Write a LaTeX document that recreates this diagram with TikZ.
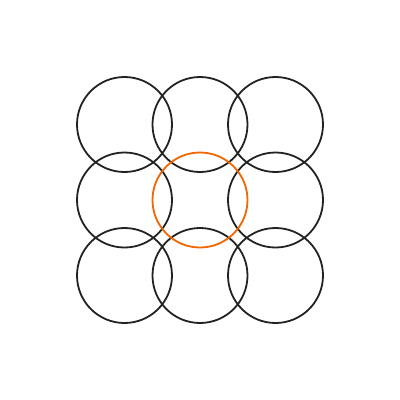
\documentclass[tikz,border=0pt]{standalone}
\definecolor{ringgray}{HTML}{222222}
\definecolor{ringorange}{HTML}{F26500}
\begin{document}
\begin{tikzpicture}[x=1pt,y=-1pt,
  ring/.style={circle,draw=ringgray,line width=1.8pt,minimum size=95pt,inner sep=0pt},
  hot/.style={ring,draw=ringorange}]
\useasboundingbox (0,0) rectangle (400,400);
\foreach \i/\x in {0/124.5,1/200,2/275.5}{
  \foreach \j/\y in {0/124.5,1/200,2/275.5}{
    \ifnum\i=1 \ifnum\j=1 \else \node[ring] (c\i\j) at (\x,\y) {};\fi
    \else \node[ring] (c\i\j) at (\x,\y) {};\fi
  }
}
\node[hot] (c11) at (200,200) {};
\end{tikzpicture}
\end{document}
